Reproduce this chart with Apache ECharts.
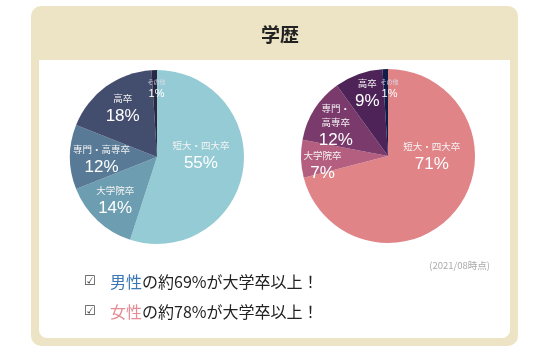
<!DOCTYPE html>
<html><head><meta charset="utf-8">
<script src="https://cdn.jsdelivr.net/npm/echarts@6/dist/echarts.min.js"></script>
<style>html,body{margin:0;padding:0;background:#fff}#c{width:540px;height:360px}</style>
</head><body><div id="c"></div>
<script>
const categories = ['短大・四大卒', '大学院卒', '専門・高専卒', '高卒', 'その他'];
const maleLabels = ['短大・四大卒', '大学院卒', '専門・高専卒', '高卒', 'その他'];
const femaleLabels = ['短大・四大卒', '大学院卒', '専門・\n高専卒', '高卒', 'その他'];
const maleValues = [55, 14, 12, 18, 1];
const femaleValues = [71, 7, 12, 9, 1];
const maleColors = ['#94cbd5', '#6c9db1', '#587a97', '#434d6e', '#2a2944'];
const femaleColors = ['#e08488', '#b45f80', '#7b3a6c', '#4d2358', '#0f1e48'];
const maleShift = [[-2, -8], [-10, 10], [-9, 3], [-7, -10], [1, -22]];
const femaleShift = [[7, -27], [-19, 9], [-13, -5], [-5, -18], [3, -21]];
const summaryTitle = '学歴';
const note = '(2021/08時点)';

function pad(s) {
  const dx = s[0], dy = s[1];
  return [dy > 0 ? 2 * dy : 0, dx < 0 ? -2 * dx : 0, dy < 0 ? -2 * dy : 0, dx > 0 ? 2 * dx : 0];
}
function makeData(values, labels, colors, shifts) {
  return categories.map((c, i) => {
    const small = values[i] <= 1;
    return {
      name: c, value: values[i],
      itemStyle: { color: colors[i] },
      label: {
        padding: pad(shifts[i]),
        formatter: '{n|' + labels[i].split('\n').join('}\n{n|') + '}\n{p|' + values[i] + '%}',
        rich: {
          n: { fontSize: small ? 6 : 9.5, color: small ? '#d8d8e8' : '#f4f4f4', lineHeight: small ? 10 : 14, fontFamily: 'Noto Sans CJK JP' },
          p: { fontSize: small ? 11 : 17, color: '#ffffff', lineHeight: small ? 14 : 22, fontFamily: 'Liberation Sans' }
        }
      }
    };
  });
}

const richBase = (col) => ({
  c: { fontSize: 13, color: '#444', width: 26, fontWeight: 'normal', fontFamily: 'DejaVu Sans' },
  m: { fontSize: 16, color: col, fontWeight: 'normal', fontFamily: 'Noto Sans CJK JP' },
  t: { fontSize: 16, color: '#222', fontWeight: 'normal', fontFamily: 'Noto Sans CJK JP' }
});

const chart = echarts.init(document.getElementById('c'), null, { renderer: 'canvas' });
chart.setOption({
  animation: false,
  graphic: [
    { type: 'rect', z: -10, shape: { x: 31, y: 6, width: 487, height: 340, r: 10 }, style: { fill: '#ede4c5' } },
    { type: 'rect', z: -9, shape: { x: 39, y: 60, width: 471, height: 278, r: [0, 0, 8, 8] }, style: { fill: '#ffffff' } }
  ],
  title: [
    { text: summaryTitle, left: 275, top: 20, textAlign: 'center',
      textStyle: { fontSize: 19, fontWeight: 'bold', color: '#222', fontFamily: 'Noto Sans CJK JP' } },
    { text: note, left: 485, top: 256, textAlign: 'right',
      textStyle: { fontSize: 9.5, color: '#aaaaaa', fontWeight: 'normal', fontFamily: 'Noto Sans CJK JP' } },
    { text: '{c|☑}{m|男性}{t|の約69%が大学卒以上！}', left: 79, top: 269,
      textStyle: { fontWeight: 'normal', rich: richBase('#3a78b5') } },
    { text: '{c|☑}{m|女性}{t|の約78%が大学卒以上！}', left: 79, top: 299,
      textStyle: { fontWeight: 'normal', rich: richBase('#e48c93') } }
  ],
  series: [
    { type: 'pie', center: [157, 157], radius: 87, startAngle: 90, clockwise: true,
      silent: true, label: { position: 'inside' }, labelLine: { show: false },
      itemStyle: { borderWidth: 0 },
      data: makeData(maleValues, maleLabels, maleColors, maleShift) },
    { type: 'pie', center: [388, 156], radius: 87, startAngle: 90, clockwise: true,
      silent: true, label: { position: 'inside' }, labelLine: { show: false },
      itemStyle: { borderWidth: 0 },
      data: makeData(femaleValues, femaleLabels, femaleColors, femaleShift) }
  ]
});
</script></body></html>
